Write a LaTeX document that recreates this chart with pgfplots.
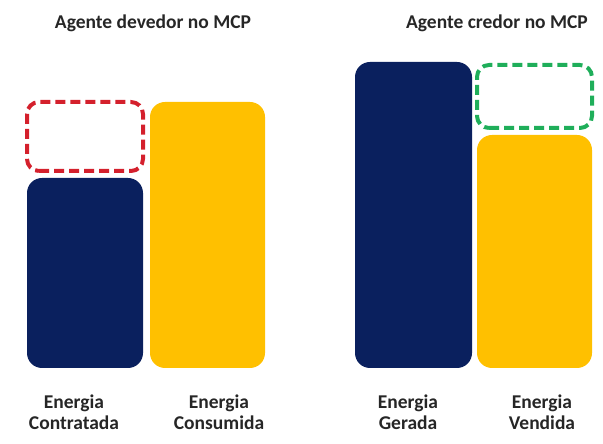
\documentclass[border=0pt]{standalone}
\usepackage{pgfplots}
\pgfplotsset{compat=1.18}
\usepackage{fontspec}
\setmainfont{Carlito}
\definecolor{navy}{HTML}{0A205E}
\definecolor{gold}{HTML}{FFC000}
\definecolor{dred}{HTML}{D4202C}
\definecolor{dgreen}{HTML}{1FAE5A}
\definecolor{txt}{HTML}{262626}
\begin{document}
\begin{tikzpicture}
\begin{axis}[
  x=1pt, y=1pt,
  xmin=0, xmax=603, ymin=-76, ymax=368,
  hide axis, clip=false,
  ybar, bar shift=0pt,
]
\path (rel axis cs:0,0) rectangle (rel axis cs:1,1);
% bars (baseline 0 = bottom of bars)
\addplot[fill=navy, draw=none, bar width=116, rounded corners=15pt] coordinates {(85,190)};
\addplot[fill=gold, draw=none, bar width=115, rounded corners=15pt] coordinates {(207.5,266)};
\addplot[fill=navy, draw=none, bar width=117, rounded corners=15pt] coordinates {(413.5,306)};
\addplot[fill=gold, draw=none, bar width=115, rounded corners=15pt] coordinates {(534.5,233)};
% dashed boxes (missing energy)
\addplot[sharp plot, draw=dred, line width=4pt, dash pattern=on 10pt off 5pt, rounded corners=12pt, fill=none]
  coordinates {(27,197) (143,197) (143,266) (27,266)} -- cycle;
\addplot[sharp plot, draw=dgreen, line width=4pt, dash pattern=on 10pt off 5pt, rounded corners=12pt, fill=none]
  coordinates {(477,240) (592,240) (592,303) (477,303)} -- cycle;
\end{axis}
\begin{scope}[x=1pt,y=1pt]
\node[font=\bfseries\fontsize{19.5}{21}\selectfont, text=txt] at (153,421) {Agente devedor no MCP};
\node[font=\bfseries\fontsize{19.5}{21}\selectfont, text=txt] at (497,421) {Agente credor no MCP};
\foreach \xx/\lab in {74/Contratada, 219/Consumida, 408/Gerada, 542/Vendida}{
  \node[font=\bfseries\fontsize{19.5}{21}\selectfont, text=txt, align=center, inner sep=0pt] at (\xx,31.5) {Energia\\\lab};
}
\end{scope}
\end{tikzpicture}
\end{document}
